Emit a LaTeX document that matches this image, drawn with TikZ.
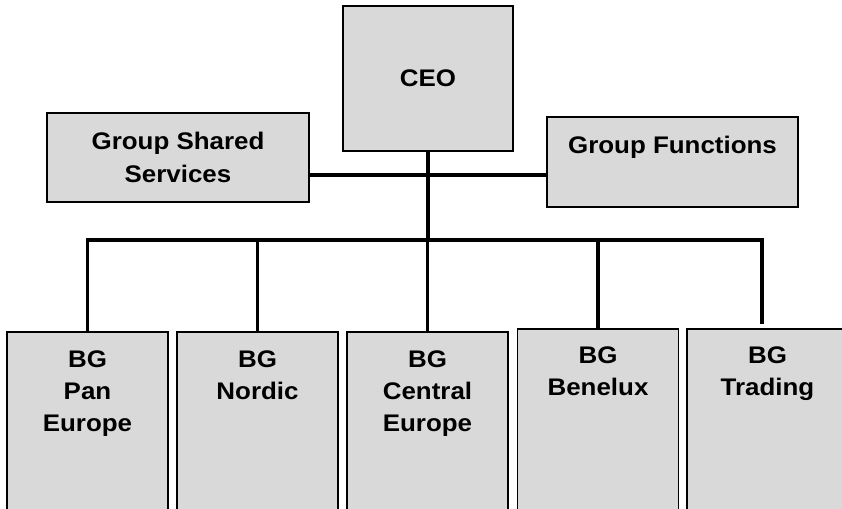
\documentclass[tikz,border=0pt]{standalone}
\usepackage{fontspec}
\setmainfont{Liberation Sans}[FakeStretch=1.08]
\usepackage{tikz}
\usetikzlibrary{positioning}
\definecolor{boxgray}{RGB}{217,217,217}

\begin{document}
\begin{tikzpicture}[x=1pt, y=-1pt,
        unit/.style={draw, line width=1.8pt, fill=boxgray, inner sep=0pt},
        bg/.style={unit, minimum width=161pt},
        label/.style={inner sep=0pt, align=center, font=\bfseries\fontsize{24}{32}\selectfont},
        link/.style={line width=3.3pt}]
        \useasboundingbox (0,0) rectangle (842,508);
        \clip (0,0) rectangle (842,508);
        % top boxes
        \node [unit, minimum width=170pt, minimum height=145pt] (ceo) at (428,78.5) {};
        \node [label] at (ceo) {CEO};
        \node [unit, minimum width=262pt, minimum height=89pt] (gss) at (178,157.5) {};
        \node [label, font=\bfseries\fontsize{24}{33}\selectfont] at (gss) {Group Shared\\Services};
        \node [unit, minimum width=251pt, minimum height=90pt] (gf) at (672.5,162) {};
        \node [label, anchor=north, below=20pt of gf.north] (gf-t) {Group Functions};
        % business groups
        \node [bg, minimum height=188pt] (pan) at (87.5,426) {};
        \node [bg, minimum height=188pt] (nordic) at (257.5,426) {};
        \node [bg, minimum height=188pt] (central) at (427.5,426) {};
        \node [bg, minimum height=191pt] (benelux) at (598,424.5) {};
        \node [bg, minimum height=191pt] (trading) at (767.5,424.5) {};
        \node [label, below=19pt of pan.north] (pan-t) {BG\\Pan\\Europe};
        \node [label, below=19pt of nordic.north] (nordic-t) {BG\\Nordic};
        \node [label, below=19pt of central.north] (central-t) {BG\\Central\\Europe};
        \node [label, below=18pt of benelux.north] (benelux-t) {BG\\Benelux};
        \node [label, below=18pt of trading.north] (trading-t) {BG\\Trading};
        % connectors
        \coordinate (hub) at (428,175);
        \coordinate (bus) at (428,240);
        \coordinate (tradeend) at (762,324);
        \draw [link] (ceo.south) -- (bus);
        \draw [link] (gss.east |- hub) -- (gf.west |- hub);
        \draw [link, line join=miter] (pan.north) |- (tradeend |- bus) -- (tradeend);
        \foreach \g in {nordic, central, benelux}
            \draw [link] (\g.north) -- (\g.north |- bus);
    \end{tikzpicture}
\end{document}
